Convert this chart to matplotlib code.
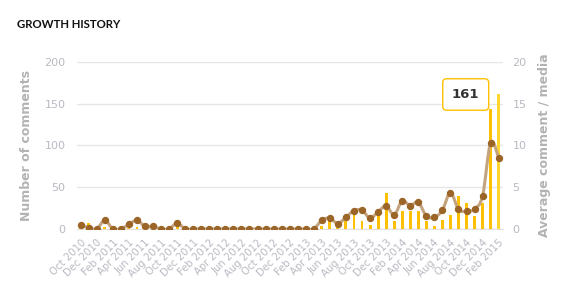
import numpy as np
import pandas as pd
import matplotlib
matplotlib.use("Agg")
import matplotlib.pyplot as plt
from matplotlib.path import Path
from matplotlib.patches import PathPatch

# monthly categories, Oct 2010 .. Feb 2015
months = pd.date_range("2010-10-01", "2015-02-01", freq="MS")
month_labels = [d.strftime("%b %Y") for d in months]

comments = [2, 7, 0, 2, 0, 0, 1, 2, 1, 1, 0, 0, 3,
            0, 0, 0, 0, 0, 0, 0, 0, 0, 0, 0, 0, 0, 0, 0, 0, 0,
            3, 11, 5, 10, 20, 10, 5, 19, 43, 10, 21, 22, 22, 10, 4, 11,
            17, 40, 31, 15, 31, 144, 161]
average = [0.45, 0.15, 0, 1.05, 0, 0, 0.55, 1.05, 0.3, 0.3, 0, 0, 0.7,
           0, 0, 0, 0, 0, 0, 0, 0, 0, 0, 0, 0, 0, 0, 0, 0, 0,
           1.05, 1.3, 0.65, 1.4, 2.2, 2.25, 1.3, 2.05, 2.75, 1.7, 3.35, 2.8,
           3.2, 1.55, 1.4, 2.25, 4.35, 2.35, 2.1, 2.4, 3.95, 10.35, 8.55]

left_ticks = [0, 50, 100, 150, 200]
right_ticks = [0, 5, 10, 15, 20]

BAR = "#ffc000"
BAR_HOVER = "#ffd62e"
LINE = "#c4a37f"
MARKER = "#9b6528"
TICK = "#b9b9c3"
TITLE = "#b3b3b3"


def spline_path(xs, ys):
    # catmull-rom segments as cubic beziers, same look as a spline series
    pts = np.column_stack([xs, ys]).astype(float)
    verts = [pts[0]]
    codes = [Path.MOVETO]
    n = len(pts)
    for i in range(n - 1):
        p0 = pts[max(i - 1, 0)]
        p1 = pts[i]
        p2 = pts[i + 1]
        p3 = pts[min(i + 2, n - 1)]
        c1 = p1 + (p2 - p0) / 6.0
        c2 = p2 - (p3 - p1) / 6.0
        verts += [c1, c2, p2]
        codes += [Path.CURVE4] * 3
    return Path(verts, codes)


fig = plt.figure(figsize=(5.68, 2.88), dpi=100)
ax = fig.add_axes([0.135, 0.205, 0.750, 0.580])
ax2 = ax.twinx()

x = np.arange(len(comments))
colors = [BAR] * (len(comments) - 1) + [BAR_HOVER]
ax.bar(x, comments, width=0.36, color=colors, zorder=2)

ax.set_xlim(-0.5, len(comments) - 0.5)
ax.set_ylim(0, 200)
ax.set_yticks(left_ticks)
ax.yaxis.grid(True, color="#e6e6e6", linewidth=1.0, zorder=0)
ax.set_axisbelow(True)

ax.set_xticks(x[::2])
ax.set_xticklabels(month_labels[::2], rotation=45, ha="right",
                   rotation_mode="anchor", fontsize=7.3, color=TICK)
ax.tick_params(axis="x", length=0, pad=6)
ax.tick_params(axis="y", length=0, pad=8, labelsize=8, labelcolor=TICK)

ax2.add_patch(PathPatch(spline_path(x, average), fill=False, edgecolor=LINE,
                        linewidth=2.2, capstyle="round", joinstyle="round",
                        zorder=3))
ax2.plot(x, average, linestyle="none", marker="o", markersize=4.3,
         color=MARKER, zorder=4)
ax2.set_ylim(0, 20)
ax2.set_yticks(right_ticks)
ax2.tick_params(axis="y", length=0, pad=7, labelsize=8, labelcolor=TICK)

for a in (ax, ax2):
    for s in a.spines.values():
        s.set_visible(False)
ax.spines["bottom"].set_visible(True)
ax.spines["bottom"].set_color("#e0e0e0")

ax.set_ylabel("Number of comments", fontsize=9, color=TITLE,
              fontweight="bold", labelpad=8)
ax2.set_ylabel("Average comment / media", fontsize=9, color=TITLE,
               fontweight="bold", labelpad=8)

# hover tooltip for the last month
ax.text(x[-1] - 4.1, comments[-1], str(comments[-1]), ha="center",
        va="center", fontsize=9.5, fontweight="bold", color="#333333",
        zorder=10,
        bbox=dict(boxstyle="round,pad=0.7,rounding_size=0.3", fc="white",
                  ec=BAR, lw=1.0))

fig.text(0.030, 0.915, "GROWTH HISTORY", fontsize=8.2, fontweight="bold",
         color="#111111", family="Lato", va="center")

fig.savefig("out.png", dpi=100, facecolor="white")
